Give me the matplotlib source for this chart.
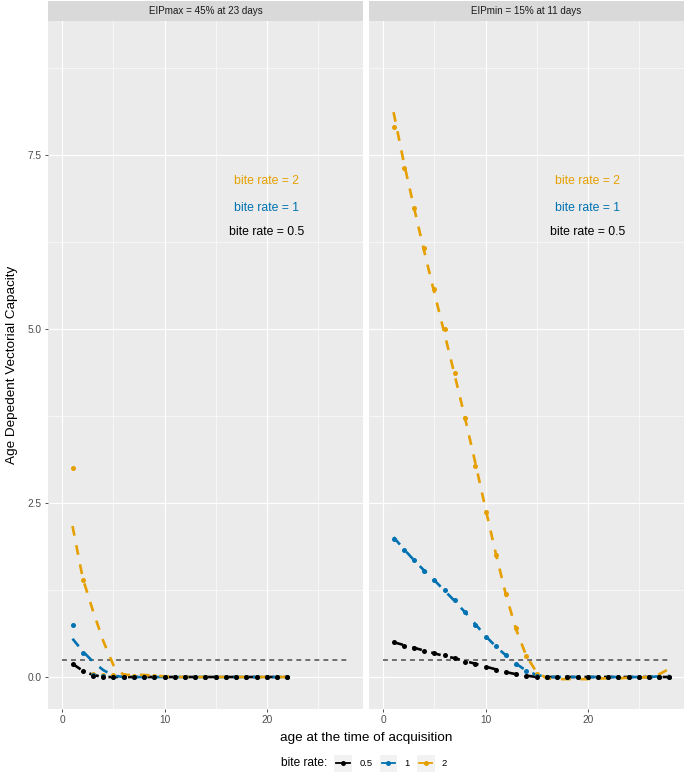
import numpy as np
import matplotlib.pyplot as plt
from matplotlib.lines import Line2D
from matplotlib.patches import Rectangle

plt.rcParams['font.family'] = ['Liberation Sans', 'DejaVu Sans']

# ---- data ----
panel_titles = ["EIPmax = 45% at 23 days", "EIPmin = 15% at 11 days"]
rates = ["0.5", "1", "2"]
colors = {"0.5": "#000000", "1": "#0072B2", "2": "#E69F00"}

# left panel (EIPmax), ages 1..22
age_max = np.arange(1, 23)
pts_max = {
    "0.5": [0.19, 0.09, 0.01, 0, 0, 0, 0, 0, 0, 0, 0, 0, 0, 0, 0, 0, 0, 0, 0, 0, 0, 0],
    "1":   [0.75, 0.35, 0.03, 0.01, 0, 0, 0, 0, 0, 0, 0, 0, 0, 0, 0, 0, 0, 0, 0, 0, 0, 0],
    "2":   [3.01, 1.39, 0.05, 0.03, 0.03, 0.03, 0.02, 0.02, 0.01, 0, 0, 0, 0, 0, 0, 0, 0, 0, 0, 0, 0, 0],
}
fit_max = {
    "0.5": [0.19, 0.09, 0.03, 0.0, 0, 0, 0, 0, 0, 0, 0, 0, 0, 0, 0, 0, 0, 0, 0, 0, 0, 0],
    "1":   [0.55, 0.37, 0.22, 0.10, 0.02, 0.0, 0, 0, 0, 0, 0, 0, 0, 0, 0, 0, 0, 0, 0, 0, 0, 0],
    "2":   [2.17, 1.42, 0.95, 0.52, 0.17, 0.03, 0.03, 0.03, 0.02, 0.01, 0, 0, 0, 0, 0, 0, 0, 0, 0, 0, 0, 0],
}

# right panel (EIPmin), ages 1..28
age_min = np.arange(1, 29)
pts_min = {
    "0.5": [0.50, 0.45, 0.42, 0.38, 0.34, 0.31, 0.27, 0.22, 0.19, 0.15, 0.10, 0.07, 0.04, 0.02,
            0, 0, 0, 0, 0, 0, 0, 0, 0, 0, 0, 0, 0, 0],
    "1":   [1.98, 1.83, 1.68, 1.53, 1.39, 1.25, 1.10, 0.93, 0.75, 0.58, 0.44, 0.31, 0.18, 0.08,
            0.01, 0, 0, 0, 0, 0, 0, 0, 0, 0, 0, 0, 0, 0],
    "2":   [7.90, 7.32, 6.74, 6.16, 5.58, 5.00, 4.37, 3.72, 3.04, 2.37, 1.76, 1.19, 0.70, 0.30,
            0.05, 0, 0, 0, 0, 0, 0, 0, 0, 0, 0, 0, 0, 0],
}
fit_min = {
    "0.5": [0.50, 0.46, 0.42, 0.38, 0.34, 0.30, 0.27, 0.23, 0.19, 0.15, 0.11, 0.07, 0.04, 0.02,
            0.0, 0, 0, 0, 0, 0, 0, 0, 0, 0, 0, 0, 0, 0.0],
    "1":   [2.01, 1.84, 1.68, 1.53, 1.39, 1.24, 1.09, 0.93, 0.76, 0.59, 0.44, 0.31, 0.19, 0.09,
            0.03, 0.0, 0, 0, 0, 0, 0, 0, 0, 0, 0, 0, 0.01, 0.02],
    "2":   [8.12, 7.40, 6.75, 6.12, 5.52, 4.93, 4.33, 3.72, 3.08, 2.42, 1.78, 1.18, 0.68, 0.30,
            0.07, -0.02, -0.03, -0.03, -0.03, -0.03, -0.02, -0.02, -0.02, -0.01, -0.01, 0.0, 0.04, 0.12],
}

threshold = 0.25
label_y = {"2": 7.13, "1": 6.74, "0.5": 6.39}
label_x = 20

panels = [(age_max, pts_max, fit_max), (age_min, pts_min, fit_min)]

W, H = 685, 773
fig = plt.figure(figsize=(W / 100, H / 100), dpi=100)

def fx(px):
    return px / W

def fy(py):
    return 1 - py / H

lefts = [48.0, 369.0]
pw = 314.8
top, bottom = 21.0, 709.0

for i, (ages, pts, fits) in enumerate(panels):
    ax = fig.add_axes([fx(lefts[i]), fy(bottom), pw / W, (bottom - top) / H])
    ax.set_facecolor("#EBEBEB")
    for s in ax.spines.values():
        s.set_visible(False)
    ax.set_xlim(-1.4, 29.4)
    ax.set_ylim(-0.46, 9.43)
    ax.set_xticks([0, 10, 20])
    ax.set_xticks([5, 15, 25], minor=True)
    ax.set_yticks([0, 2.5, 5.0, 7.5])
    ax.set_yticks([1.25, 3.75, 6.25, 8.75], minor=True)
    ax.grid(which="major", color="white", lw=0.8)
    ax.grid(which="minor", color="white", lw=0.4)
    ax.set_axisbelow(True)
    ax.tick_params(which="minor", length=0)
    ax.tick_params(which="major", length=2.5, width=0.6, color="#333333",
                   labelsize=7.3, labelcolor="#4D4D4D", pad=2)
    if i == 0:
        ax.set_yticklabels(["0.0", "2.5", "5.0", "7.5"])
    else:
        ax.tick_params(axis="y", length=0, labelleft=False)

    ax.plot([0, 28], [threshold, threshold], color="#4D4D4D", lw=1.1,
            dashes=(3.2, 2.7), zorder=2)

    for r in rates:
        ax.plot(ages, fits[r], color=colors[r], lw=1.9, dashes=(3.7, 3.7),
                zorder=3, solid_capstyle="butt", dash_capstyle="butt")
    for r in rates[::-1]:
        ax.plot(ages, pts[r], "o", color=colors[r], ms=3.6, mec="none", zorder=4)

    for r in rates:
        ax.text(label_x, label_y[r], "bite rate = " + r, color=colors[r],
                fontsize=8.8, ha="center", va="center")

    # strip
    sx = fig.add_axes([fx(lefts[i]), fy(top), pw / W, 20.0 / H])
    sx.set_facecolor("#D9D9D9")
    sx.set_xticks([])
    sx.set_yticks([])
    for s in sx.spines.values():
        s.set_visible(False)
    sx.text(0.5, 0.5, panel_titles[i], fontsize=7.1, color="#1A1A1A",
            ha="center", va="center", transform=sx.transAxes)

fig.text(fx(366), fy(738), "age at the time of acquisition", fontsize=9.7,
         ha="center", va="center")
fig.text(fx(12), fy(365), "Age Depedent Vectorial Capacity", fontsize=9.7,
         ha="center", va="center", rotation=90)

# legend
ly = 763
fig.text(fx(281), fy(ly), "bite rate:", fontsize=8.6, ha="left", va="center")
key_x = [334, 379.5, 417]
lab_x = [360, 404, 441]
for k, r in enumerate(rates):
    fig.add_artist(Rectangle((fx(key_x[k]), fy(ly + 8.5)), 17.5 / W, 17 / H,
                             transform=fig.transFigure, facecolor="#F2F2F2",
                             edgecolor="none"))
    fig.add_artist(Line2D([fx(key_x[k] + 2), fx(key_x[k] + 15.5)], [fy(ly), fy(ly)],
                          transform=fig.transFigure, color=colors[r], lw=1.3))
    fig.add_artist(Line2D([fx(key_x[k] + 8.75)], [fy(ly)], transform=fig.transFigure,
                          marker="o", ms=3.6, color=colors[r], mec="none"))
    fig.text(fx(lab_x[k]), fy(ly), r, fontsize=6.8, ha="left", va="center")

fig.savefig("out.png", dpi=100)
